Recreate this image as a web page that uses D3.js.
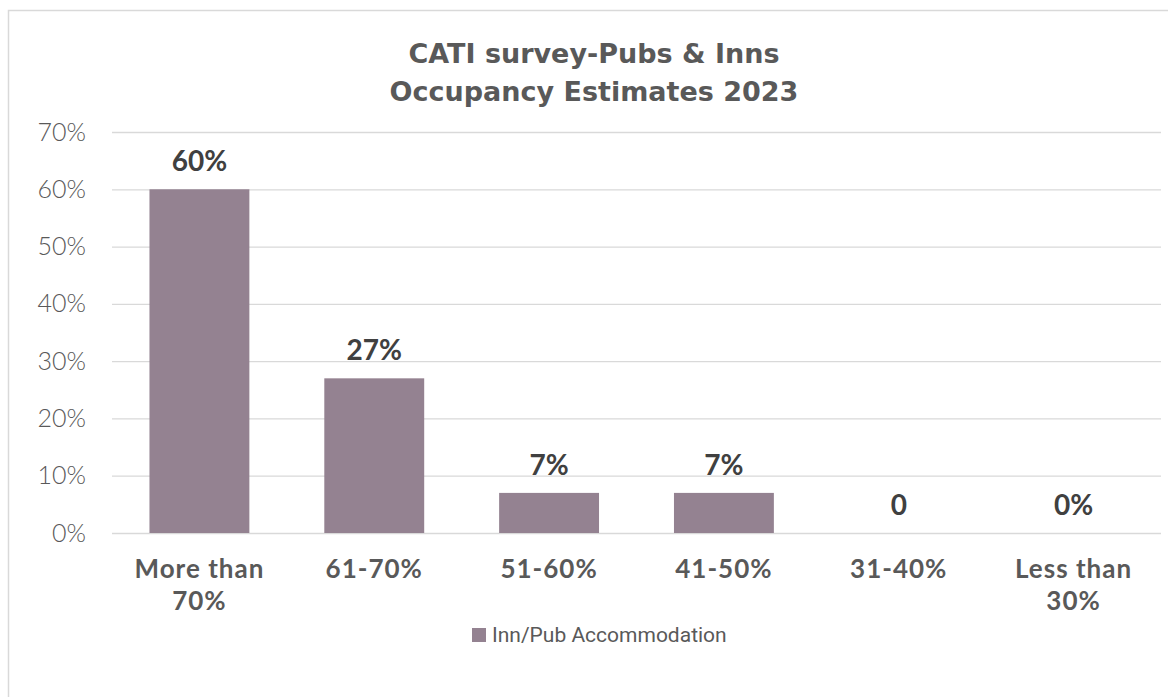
<!DOCTYPE html>
<html lang="en">
<head>
    <meta charset="UTF-8">
    <title>CATI survey - Pubs & Inns Occupancy Estimates 2023</title>
    <script src="https://d3js.org/d3.v7.min.js"></script>
    <style>
        body { margin: 0; background: #fff; }
    </style>
</head>
<body>
    <svg width="1168" height="697"></svg>
    <script>
        const categories = [["More than", "70%"], ["61-70%"], ["51-60%"], ["41-50%"], ["31-40%"], ["Less than", "30%"]];
        const values = [0.60, 0.27, 0.07, 0.07, 0, 0];
        const valueLabels = ["60%", "27%", "7%", "7%", "0", "0%"];
        const yTicks = [0, 0.1, 0.2, 0.3, 0.4, 0.5, 0.6, 0.7];
        const seriesName = "Inn/Pub Accommodation";

        const svg = d3.select("svg");
        const margin = { left: 112, right: 1161, top: 132, bottom: 533 };
        const barColor = "#948291";

        // outer chart frame
        svg.append("rect")
            .attr("x", 8.5).attr("y", 10.5)
            .attr("width", 1200).attr("height", 720)
            .attr("fill", "none").attr("stroke", "#d9d9d9").attr("stroke-width", 1.5);

        // title
        const title = svg.append("text")
            .attr("text-anchor", "middle")
            .attr("fill", "#595959")
            .attr("font-family", "DejaVu Sans, sans-serif")
            .attr("font-weight", "bold")
            .attr("font-size", 27);
        title.append("tspan").attr("x", 594).attr("y", 63).text("CATI survey-Pubs & Inns");
        title.append("tspan").attr("x", 594).attr("y", 101).text("Occupancy Estimates 2023");

        const x = d3.scaleBand()
            .domain(d3.range(categories.length))
            .range([margin.left, margin.right])
            .paddingInner(0.4286)
            .paddingOuter(0.2143);

        const y = d3.scaleLinear()
            .domain([0, 0.7])
            .range([margin.bottom, margin.top]);

        // gridlines + y labels
        const yAxis = svg.append("g")
            .attr("transform", `translate(${margin.left},0)`)
            .call(d3.axisLeft(y).tickValues(yTicks).tickFormat(d3.format(".0%"))
                .tickSize(-(margin.right - margin.left)).tickPadding(26));
        yAxis.select(".domain").remove();
        yAxis.selectAll(".tick line").attr("stroke", "#d9d9d9").attr("stroke-width", 1.3);
        yAxis.selectAll(".tick text")
            .attr("fill", "#595959")
            .attr("font-family", "Lato, sans-serif")
            .attr("font-weight", 300)
            .attr("font-size", 25);

        // bars
        svg.append("g").selectAll("rect")
            .data(values)
            .join("rect")
            .attr("x", (d, i) => x(i))
            .attr("y", d => y(d))
            .attr("width", x.bandwidth())
            .attr("height", d => y(0) - y(d))
            .attr("fill", barColor);

        // value labels
        svg.append("g").selectAll("text")
            .data(values)
            .join("text")
            .attr("x", (d, i) => x(i) + x.bandwidth() / 2)
            .attr("y", d => y(d) - 18)
            .attr("text-anchor", "middle")
            .attr("fill", "#404040")
            .attr("font-family", "Lato, sans-serif")
            .attr("font-weight", "bold")
            .attr("font-size", 28)
            .text((d, i) => valueLabels[i]);

        // category labels
        const cat = svg.append("g").selectAll("text")
            .data(categories)
            .join("text")
            .attr("text-anchor", "middle")
            .attr("fill", "#595959")
            .attr("font-family", "Lato, sans-serif")
            .attr("font-weight", "bold")
            .attr("font-size", 26)
            .attr("letter-spacing", 1);
        cat.selectAll("tspan")
            .data((d, i) => d.map(t => ({ t, i })))
            .join("tspan")
            .attr("x", d => x(d.i) + x.bandwidth() / 2)
            .attr("y", (d, j) => 578 + j * 32)
            .text(d => d.t);

        // legend
        const legend = svg.append("g").attr("transform", "translate(472,628)");
        legend.append("rect").attr("width", 14).attr("height", 14).attr("fill", barColor);
        legend.append("text")
            .attr("x", 20).attr("y", 14)
            .attr("fill", "#595959")
            .attr("font-family", "Roboto, sans-serif")
            .attr("font-size", 21)
            .text(seriesName);
    </script>
</body>
</html>
